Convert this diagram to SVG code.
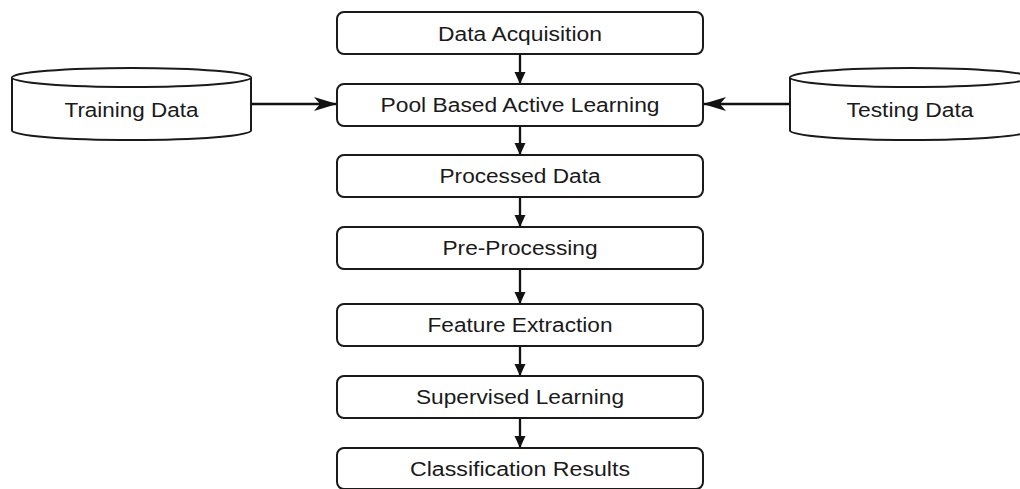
<svg xmlns="http://www.w3.org/2000/svg" width="1020" height="489" viewBox="0 0 1020 489">
<style>
.box{fill:#fff;stroke:#1a1a1a;stroke-width:2}
.cyl{fill:#fff;stroke:#1a1a1a;stroke-width:2}
.t{font-family:"Liberation Sans",Arial,sans-serif;font-size:20px;fill:#1a1a1a;text-anchor:middle}
.v{stroke:#111;stroke-width:2.3;fill:none}
.h{stroke:#111;stroke-width:2.5;fill:none}
</style>
<defs>
<marker id="fa" markerWidth="12" markerHeight="12" refX="12" refY="6" orient="auto" markerUnits="userSpaceOnUse">
<path d="M0,0.5 L12,6 L0,11.5 Z" fill="#111"/>
</marker>
<marker id="oa" markerWidth="26" markerHeight="18" refX="24" refY="9" orient="auto" markerUnits="userSpaceOnUse">
<path d="M1,2 L24,9 L1,16 L7,9 Z" fill="#111"/>
</marker>
</defs>
<rect width="1020" height="489" fill="#fff"/>
<g id="connectors">
<line class="v" x1="520" y1="55" x2="520" y2="84" marker-end="url(#fa)"/>
<line class="v" x1="520" y1="127" x2="520" y2="155" marker-end="url(#fa)"/>
<line class="v" x1="520" y1="198" x2="520" y2="227" marker-end="url(#fa)"/>
<line class="v" x1="520" y1="270" x2="520" y2="304" marker-end="url(#fa)"/>
<line class="v" x1="520" y1="347" x2="520" y2="376" marker-end="url(#fa)"/>
<line class="v" x1="520" y1="419" x2="520" y2="448" marker-end="url(#fa)"/>
<line class="h" x1="251" y1="104" x2="337" y2="104" marker-end="url(#oa)"/>
<line class="h" x1="790" y1="104" x2="703" y2="104" marker-end="url(#oa)"/>
</g>
<g id="n1"><rect class="box" x="337" y="12" width="366" height="42" rx="7"/><text class="t" x="520" y="40.5" textLength="164" lengthAdjust="spacingAndGlyphs">Data Acquisition</text></g>
<g id="n2"><rect class="box" x="337" y="84" width="366" height="42" rx="7"/><text class="t" x="520" y="111.5" textLength="279" lengthAdjust="spacingAndGlyphs">Pool Based Active Learning</text></g>
<g id="n3"><rect class="box" x="337" y="155" width="366" height="42" rx="7"/><text class="t" x="520" y="183" textLength="161" lengthAdjust="spacingAndGlyphs">Processed Data</text></g>
<g id="n4"><rect class="box" x="337" y="227" width="366" height="42" rx="7"/><text class="t" x="520" y="255" textLength="155" lengthAdjust="spacingAndGlyphs">Pre-Processing</text></g>
<g id="n5"><rect class="box" x="337" y="304" width="366" height="42" rx="7"/><text class="t" x="520" y="332" textLength="185" lengthAdjust="spacingAndGlyphs">Feature Extraction</text></g>
<g id="n6"><rect class="box" x="337" y="376" width="366" height="42" rx="7"/><text class="t" x="520" y="404" textLength="208" lengthAdjust="spacingAndGlyphs">Supervised Learning</text></g>
<g id="n7"><rect class="box" x="337" y="448" width="366" height="41" rx="7"/><text class="t" x="520" y="476" textLength="220" lengthAdjust="spacingAndGlyphs">Classification Results</text></g>
<g id="training">
<path class="cyl" d="M12,77.5 L12,130.5 A119.5,9.5 0 0 0 251,130.5 L251,77.5 A119.5,9.5 0 0 0 12,77.5 Z"/>
<path class="cyl" d="M12,77.5 A119.5,9.5 0 0 0 251,77.5"/>
<text class="t" x="131.5" y="116.5" textLength="134" lengthAdjust="spacingAndGlyphs">Training Data</text>
</g>
<g id="testing">
<path class="cyl" d="M790,77.5 L790,130.5 A120,9.5 0 0 0 1030,130.5 L1030,77.5 A120,9.5 0 0 0 790,77.5 Z"/>
<path class="cyl" d="M790,77.5 A120,9.5 0 0 0 1030,77.5"/>
<text class="t" x="910" y="116.5" textLength="127" lengthAdjust="spacingAndGlyphs">Testing Data</text>
</g>
</svg>
